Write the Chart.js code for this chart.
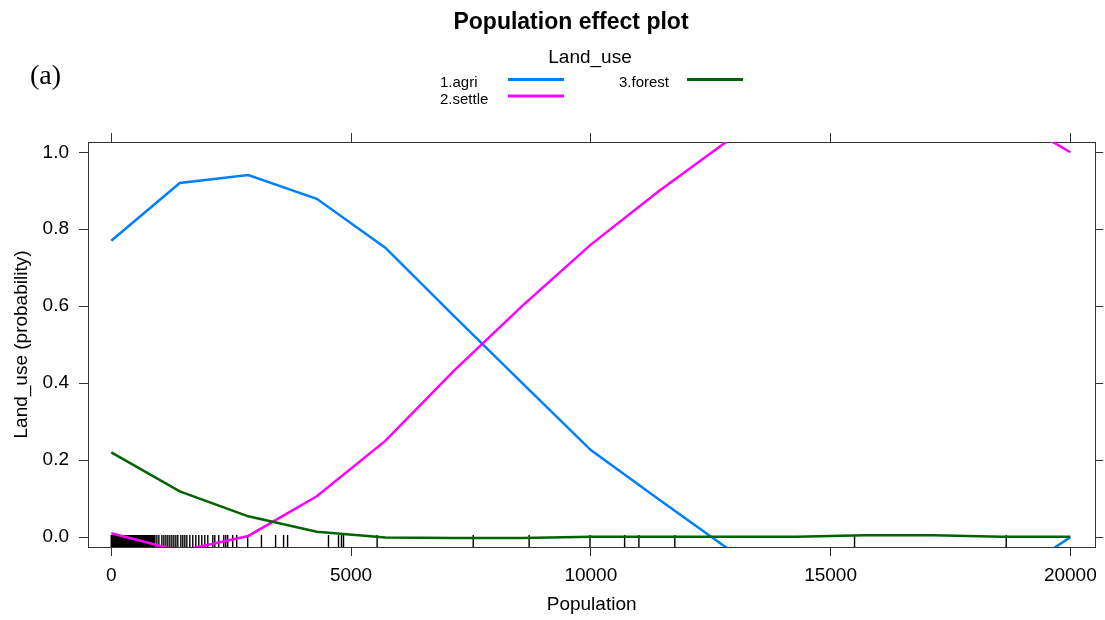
<!DOCTYPE html>
<html>
<head>
<meta charset="utf-8">
<title>Population effect plot</title>
<script src="https://cdn.jsdelivr.net/npm/chart.js@4/dist/chart.umd.min.js"></script>
<style>
  html, body { margin: 0; padding: 0; background: #fff; }
  #wrap { width: 1105px; height: 620px; position: relative; }
</style>
</head>
<body>
<div id="wrap"><canvas id="effectChart"></canvas></div>
<script>
/* ---------- Data ---------- */
const popGrid = [0, 1429, 2857, 4286, 5714, 7143, 8571, 10000, 11429, 12857, 14286, 15714, 17143, 18571, 20000];
const agri    = [0.770, 0.920, 0.941, 0.879, 0.752, 0.575, 0.400, 0.226, 0.097, -0.030, -0.090, -0.130, -0.150, -0.120, 0.000];
const settle  = [0.010, -0.036, 0.003, 0.106, 0.250, 0.432, 0.601, 0.760, 0.900, 1.030, 1.100, 1.130, 1.140, 1.104, 1.000];
const forest  = [0.220, 0.119, 0.054, 0.014, -0.001, -0.002, -0.002, 0.001, 0.001, 0.001, 0.001, 0.005, 0.005, 0.001, 0.001];

// observed Population values (rug)
const rugPop = [
  0, 12, 25, 38, 52, 63, 77, 90, 104, 116, 130, 142, 156, 170, 183, 196, 208, 222, 235, 249,
  262, 275, 288, 301, 315, 327, 341, 354, 368, 380, 394, 407, 420, 433, 447, 460, 473, 486,
  500, 512, 526, 539, 552, 566, 578, 592, 605, 618, 631, 645, 658, 671, 684, 698, 710, 724,
  737, 750, 763, 777, 790, 803, 816, 830, 843, 856, 869, 883, 896, 910,
  951, 993, 1055, 1097, 1139, 1180, 1222, 1264, 1305, 1347, 1388, 1451, 1492, 1534, 1576, 1638,
  1700, 1763, 1825, 1888, 1950, 2013, 2117, 2159, 2242, 2346, 2388, 2429, 2533, 2616, 2845,
  3132, 3427, 3594, 3677, 4530, 4739, 4801, 4843, 5544, 7548, 8714, 9983, 10705, 11003, 11752,
  15500, 18663
];

const xTicks = [0, 5000, 10000, 15000, 20000];
const yTicks = [0, 0.2, 0.4, 0.6, 0.8, 1.0];

const seriesNames  = ['1.agri', '2.settle', '3.forest'];
const seriesColors = ['#0080ff', '#ff00ff', '#006400'];

/* ---------- Panel limits ---------- */
const X_MIN = -485, X_MAX = 20519;
const Y_MIN = -0.0257, Y_MAX = 1.0267;

const FONT = '"Liberation Sans", Arial, sans-serif';
const AXIS_COL = '#333';

const pts = ys => popGrid.map((x, i) => ({ x: x, y: ys[i] }));
const fixTicks = arr => s => { s.ticks = arr.map(v => ({ value: v })); };

/* ---------- Title, panel tag and key (lattice style) ---------- */
const decor = {
  id: 'decor',
  afterDraw(chart) {
    const ctx = chart.ctx;
    ctx.save();
    ctx.fillStyle = '#000';
    ctx.textBaseline = 'alphabetic';

    ctx.textAlign = 'center';
    ctx.font = 'bold 23px ' + FONT;
    ctx.fillText('Population effect plot', 571, 29);

    ctx.textAlign = 'left';
    ctx.font = '28px "Liberation Serif", "Times New Roman", serif';
    ctx.fillText('(a)', 30, 84);

    ctx.textAlign = 'center';
    ctx.font = '19px ' + FONT;
    ctx.fillText('Land_use', 590, 63);

    // key: two columns, filled column-wise
    ctx.textAlign = 'left';
    ctx.font = '15px ' + FONT;
    chart.data.datasets.filter(d => d.inKey).forEach((d, i) => {
      const col = Math.floor(i / 2), row = i % 2;
      const tx = 440 + col * 179;
      const by = 87 + row * 16.5;
      ctx.fillStyle = '#000';
      ctx.fillText(d.label, tx, by);
      ctx.strokeStyle = d.borderColor;
      ctx.lineWidth = 3;
      ctx.beginPath();
      ctx.moveTo(tx + 68, by - 7.5);
      ctx.lineTo(tx + 124, by - 7.5);
      ctx.stroke();
    });
    ctx.restore();
  }
};

const lineSet = (i, ys) => ({
  label: seriesNames[i],
  inKey: true,
  data: pts(ys),
  showLine: true,
  borderColor: seriesColors[i],
  backgroundColor: seriesColors[i],
  borderWidth: 2.5,
  pointRadius: 0,
  tension: 0,
  order: 3 - i
});

new Chart(document.getElementById('effectChart'), {
  type: 'scatter',
  data: {
    datasets: [
      lineSet(0, agri),
      lineSet(1, settle),
      lineSet(2, forest),
      {
        label: 'rug',
        inKey: false,
        data: rugPop.map(x => ({ x: x, y: Y_MIN + 0.015 * (Y_MAX - Y_MIN) })),
        pointStyle: 'line',
        rotation: 90,
        pointRadius: 6,
        pointBorderWidth: 1.4,
        borderColor: '#000',
        backgroundColor: '#000',
        showLine: false,
        order: 4
      }
    ]
  },
  options: {
    responsive: true,
    maintainAspectRatio: false,
    animation: false,
    events: [],
    layout: { padding: 0 },
    plugins: {
      legend: { display: false },
      tooltip: { enabled: false }
    },
    scales: {
      x: {
        type: 'linear', position: 'bottom', min: X_MIN, max: X_MAX,
        afterBuildTicks: fixTicks(xTicks),
        afterFit: s => { s.height = 73; },
        ticks: { color: '#000', font: { family: FONT, size: 19 }, padding: 8, maxRotation: 0, autoSkip: false, callback: v => String(v) },
        grid: { drawOnChartArea: false, tickLength: 9, color: AXIS_COL },
        border: { color: AXIS_COL, width: 1 },
        title: { display: true, text: 'Population', color: '#000', font: { family: FONT, size: 19 }, padding: { top: 0, bottom: 4 } }
      },
      x2: {
        type: 'linear', position: 'top', min: X_MIN, max: X_MAX,
        afterBuildTicks: fixTicks(xTicks),
        afterFit: s => { s.height = 142; },
        ticks: { display: false },
        grid: { drawOnChartArea: false, tickLength: 9, color: AXIS_COL },
        border: { color: AXIS_COL, width: 1 }
      },
      y: {
        type: 'linear', position: 'left', min: Y_MIN, max: Y_MAX,
        afterBuildTicks: fixTicks(yTicks),
        afterFit: s => { s.width = 88; },
        ticks: { color: '#000', font: { family: FONT, size: 19 }, padding: 10, callback: v => v.toFixed(1) },
        grid: { drawOnChartArea: false, tickLength: 9, color: AXIS_COL },
        border: { color: AXIS_COL, width: 1 },
        title: { display: true, text: 'Land_use (probability)', color: '#000', font: { family: FONT, size: 19 }, padding: { top: 10.5, bottom: 0 } }
      },
      y2: {
        type: 'linear', position: 'right', min: Y_MIN, max: Y_MAX,
        afterBuildTicks: fixTicks(yTicks),
        afterFit: s => { s.width = 8; },
        ticks: { display: false },
        grid: { drawOnChartArea: false, tickLength: 8, color: AXIS_COL },
        border: { color: AXIS_COL, width: 1 }
      }
    }
  },
  plugins: [decor]
});
</script>
</body>
</html>
